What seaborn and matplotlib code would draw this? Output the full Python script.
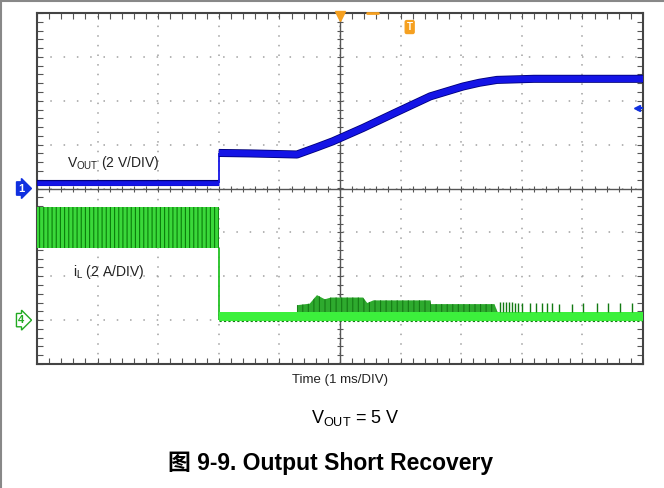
import numpy as np
import matplotlib.pyplot as plt
import matplotlib.patheffects as pe
from matplotlib.lines import Line2D
from matplotlib.ticker import MultipleLocator
import seaborn as sns

# Scope settings: 10 div x 1 ms, 8 div vertical
V_PER_DIV = 2.0
A_PER_DIV = 2.0
CH1_GND = 0.0    # divisions
CH4_GND = -3.0   # divisions

vout_pre_t = [0.0, 3.0]
vout_pre_v = [0.25, 0.25]
vout_t = [3.0, 3.5, 4.29, 4.62, 4.88, 5.38, 5.94, 6.49, 7.03, 7.3, 7.59, 8.2, 10.0]
vout_v = [1.62, 1.60, 1.55, 1.88, 2.15, 2.76, 3.49, 4.2, 4.65, 4.82, 4.95, 5.0, 5.0]

# CH4: inductor current (A) envelopes
il_pre_t = [0.0, 3.0]
il_pre_lo = [3.3, 3.3]
il_pre_hi = [5.15, 5.15]
il_post_t = [3.0, 4.29, 4.29, 4.5, 4.62, 4.75, 4.85, 5.38, 5.45, 5.55, 6.49, 6.5, 7.55, 7.6, 10.0]
il_post_hi = [0.36, 0.36, 0.68, 0.75, 1.14, 0.95, 1.03, 1.03, 0.78, 0.9, 0.9, 0.73, 0.73, 0.36, 0.36]
il_base_t = [3.0, 10.0]
il_base_lo = [-0.05, -0.05]
il_base_hi = [0.36, 0.36]
spike_t = [7.64, 7.69, 7.74, 7.79, 7.84, 7.89, 7.94, 8.0, 8.14, 8.23, 8.33,
           8.42, 8.50, 8.61, 8.83, 9.01, 9.24, 9.42, 9.62, 9.82]
spike_top = [0.82, 0.82, 0.82, 0.82, 0.82, 0.8, 0.8, 0.8, 0.8, 0.78, 0.78,
             0.76, 0.76, 0.74, 0.74, 0.76, 0.76, 0.8, 0.8, 0.8]


def v_div(v):
    return np.asarray(v) / V_PER_DIV + CH1_GND


def a_div(a):
    return np.asarray(a) / A_PER_DIV + CH4_GND


sns.set_theme(style="white")
plt.rcParams['font.family'] = ['Liberation Sans', 'Noto Sans CJK SC']
plt.rcParams['mathtext.fontset'] = 'custom'
plt.rcParams['mathtext.rm'] = 'Liberation Sans'
plt.rcParams['hatch.linewidth'] = 0.8

fig = plt.figure(figsize=(6.64, 4.88), dpi=100)
ax = fig.add_axes([37 / 664, 1 - 364 / 488, 606 / 664, 351 / 488])
ax.set_xlim(0, 10)
ax.set_ylim(-4, 4)

# graticule
ax.set_xticks(np.arange(0, 11))
ax.set_yticks(np.arange(-4, 5))
ax.xaxis.set_minor_locator(MultipleLocator(0.2))
ax.yaxis.set_minor_locator(MultipleLocator(0.2))
ax.set_xticklabels([])
ax.set_yticklabels([])
ax.tick_params(which='both', direction='in', length=4, width=0.8, color='#555555',
               top=True, right=True, bottom=True, left=True)
ax.xaxis.grid(True, color='#a0a0a0', lw=1.1, linestyle=(0, (1, 5.3)))
ax.yaxis.grid(True, color='#a0a0a0', lw=1.1, linestyle=(0, (1, 7.7)))
for s in ax.spines.values():
    s.set_color('#444444')
    s.set_linewidth(1.5)
ax.axvline(5, color='#555555', lw=1, zorder=1)
ax.axhline(0, color='#555555', lw=1, zorder=1)
ax.plot(np.arange(0, 10.01, 0.2), np.zeros(51), ls='none', marker='|',
        ms=5, color='#555555', mew=0.8, zorder=1)
ax.plot(np.full(41, 5.0), np.arange(-4, 4.01, 0.2), ls='none', marker='_',
        ms=5, color='#555555', mew=0.8, zorder=1)

# CH4 inductor current
ax.fill_between(il_pre_t, a_div(il_pre_lo), a_div(il_pre_hi), facecolor='#3ad83a',
                edgecolor='#0b7d0b', hatch='||||', lw=0, zorder=3)
ax.vlines(3.0, a_div(0.0), a_div(il_pre_lo[-1]), color='#22c022', lw=1.3, zorder=3)
ax.fill_between(il_post_t, a_div(il_base_hi[0]), a_div(il_post_hi), facecolor='#2eaa2e',
                edgecolor='#157a15', hatch='|||', lw=0, zorder=3)
ax.fill_between(il_base_t, a_div(il_base_lo), a_div(il_base_hi), color='#3cf03c',
                lw=0, zorder=4)
ax.plot(il_base_t, a_div(il_base_lo), color='#127a12', lw=0.8, ls=(0, (2, 2)), zorder=4)
ax.vlines(spike_t, a_div(il_base_hi[0]), a_div(spike_top), color='#127a12', lw=1, zorder=4)

# CH1 output voltage
sns.lineplot(x=vout_pre_t, y=v_div(vout_pre_v), ax=ax, color='#1414e6', lw=3.4,
             estimator=None, sort=False, zorder=5, solid_capstyle='butt')
ax.lines[-1].set_path_effects([pe.Stroke(linewidth=4.4, foreground='#00007a',
                                         capstyle='butt'), pe.Normal()])
ax.vlines(3.0, v_div(vout_pre_v[-1]), v_div(vout_v[0]), color='#1414e6', lw=1.3, zorder=5)
sns.lineplot(x=vout_t, y=v_div(vout_v), ax=ax, color='#1414e6', lw=4.6,
             estimator=None, sort=False, zorder=5, solid_capstyle='butt')
ax.lines[-1].set_path_effects([pe.Stroke(linewidth=5.8, foreground='#00007a',
                                         capstyle='butt'), pe.Normal()])

# channel labels
ax.text(0.5, 0.58, r'V$_{\mathrm{OUT}}$ (2 V/DIV)', fontsize=10, color='#222222',
        va='center', ha='left', zorder=6)
ax.text(0.6, -1.9, r'i$_{\mathrm{L}}$ (2 A/DIV)', fontsize=10, color='#222222',
        va='center', ha='left', zorder=6)

# scope markers
ax.text(-0.26, CH1_GND, '1', fontsize=8, color='white', weight='bold', ha='center',
        va='center', clip_on=False,
        bbox=dict(boxstyle='rarrow,pad=0.15', fc='#1030e0', ec='#1030e0'))
ax.text(-0.26, CH4_GND, '4', fontsize=8, color='#22aa22', weight='bold', ha='center',
        va='center', clip_on=False,
        bbox=dict(boxstyle='rarrow,pad=0.15', fc='white', ec='#22aa22', lw=1))
ax.plot(5.0, 3.93, marker='v', ms=7, color='#f5a020', clip_on=False, zorder=7)
ax.plot([5.45, 5.62], [4.0, 4.0], color='#f5a020', lw=2, clip_on=False, zorder=7)
ax.text(6.15, 3.68, 'T', fontsize=7, color='white', weight='bold', ha='center', va='center',
        bbox=dict(boxstyle='round,pad=0.15', fc='#f5a020', ec='#f5a020'), zorder=7)
ax.plot(9.9, 1.83, marker='<', ms=5, color='#1030e0', zorder=7)
ax.plot([9.9, 10.0], [1.83, 1.83], color='#1030e0', lw=1.5, zorder=7)

# figure text
fig.text(340 / 664, 1 - 380 / 488, 'Time (1 ms/DIV)', fontsize=9.5, ha='center',
         va='center', color='#222222')
fig.text(355 / 664, 1 - 418 / 488, r'V$_{\mathrm{OUT}}$ = 5 V', fontsize=13,
         ha='center', va='center', color='black')
fig.text(331 / 664, 1 - 463 / 488, '图 9-9. Output Short Recovery', fontsize=16.5,
         weight='bold', ha='center', va='center', color='black')

# page border
fig.add_artist(Line2D([0.0015, 0.0015], [0, 1], transform=fig.transFigure,
                      color='#888888', lw=1.5))
fig.add_artist(Line2D([0, 1], [0.998, 0.998], transform=fig.transFigure,
                      color='#888888', lw=1.5))

fig.savefig('out.png', dpi=100)
